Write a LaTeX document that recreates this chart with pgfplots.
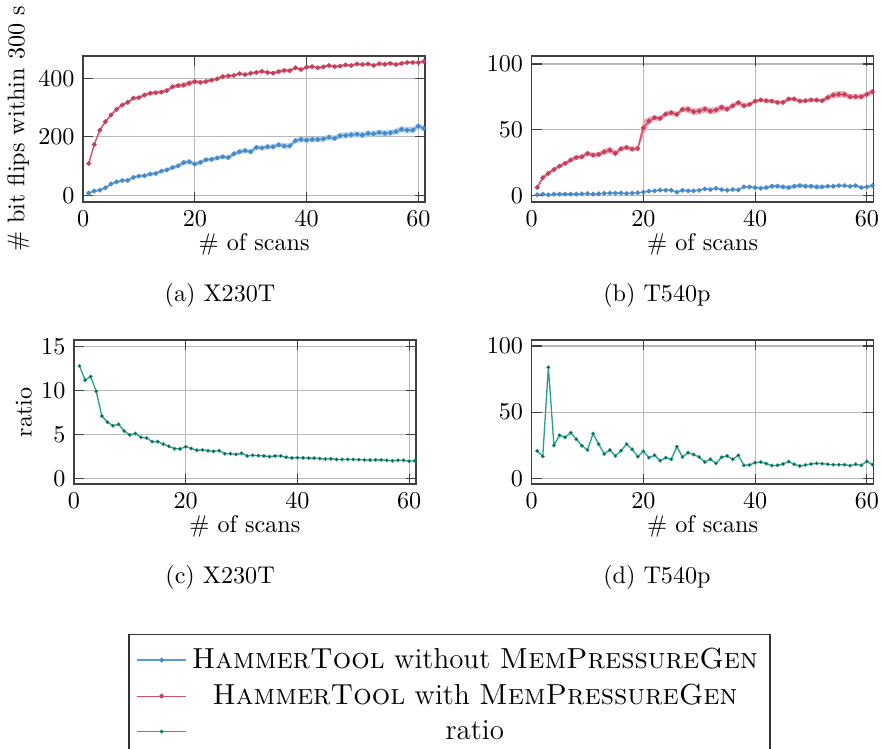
\documentclass[border=0pt]{standalone}
\usepackage{pgfplots}
\pgfplotsset{compat=1.18}
\usepackage{pgfplotstable}
\usepgfplotslibrary{fillbetween}

\definecolor{woline}{HTML}{5C9BD6}
\definecolor{womark}{HTML}{4A88C8}
\definecolor{woband}{HTML}{A8D5F1}
\definecolor{wline}{HTML}{D2506B}
\definecolor{wmark}{HTML}{C2405C}
\definecolor{wband}{HTML}{EBAAB8}
\definecolor{rline}{HTML}{2AA08C}
\definecolor{rmark}{HTML}{163F37}

% x, without (mean, spread), with (mean, spread)
\pgfplotstableread{
x wo woe w we
1 8 4 109 4
2 15 4 174 5
3 18 4 223 5
4 26 4 252 5
5 39 5 275 5
6 46 5 294 5
7 51 5 309 5
8 51 5 318 5
9 62 5 332 5
10 66 5 334 5
11 67 6 343 6
12 73 6 349 6
13 75 6 351 6
14 83 6 353 6
15 87 6 358 6
16 95 6 371 6
17 101 7 375 7
18 112 8 377 8
19 115 8 383 9
20 107 7 389 7
21 113 7 386 6
22 122 7 389 6
23 123 7 394 6
24 128 7 398 6
25 132 7 406 6
26 129 7 408 5
27 142 8 410 5
28 149 8 416 5
29 153 8 413 5
30 149 8 417 5
31 164 8 420 5
32 162 8 424 5
33 166 8 420 5
34 166 8 418 5
35 173 8 423 6
36 169 9 427 6
37 169 9 426 6
38 187 9 436 5
39 191 9 430 5
40 189 9 438 5
41 191 9 440 5
42 191 9 436 5
43 193 9 439 5
44 199 9 444 5
45 195 9 440 5
46 204 10 442 5
47 205 10 446 5
48 207 10 444 5
49 209 10 449 5
50 206 10 447 5
51 212 10 449 5
52 210 10 444 5
53 215 10 450 5
54 212 10 448 5
55 214 10 451 5
56 218 10 447 5
57 226 10 451 5
58 223 10 454 5
59 223 10 454 5
60 237 10 454 5
61 229 10 458 5
}\tabX

\pgfplotstableread{
x wo woe w we
1 0.5 0.4 6.1 1.2
2 1.0 0.4 13.5 1.5
3 0.5 0.4 16.8 1.5
4 1.0 0.4 19.8 1.5
5 1.0 0.4 22.3 1.5
6 1.0 0.4 24.4 1.5
7 1.0 0.4 26.9 1.8
8 1.0 0.4 28.9 1.8
9 1.2 0.4 29.4 1.8
10 1.5 0.4 32.0 1.8
11 1.0 0.4 30.7 1.8
12 1.3 0.4 31.2 1.8
13 1.6 0.4 33.2 2.2
14 1.8 0.4 34.5 2.5
15 1.8 0.4 32.0 2.2
16 1.8 0.4 35.5 1.8
17 1.5 0.4 36.5 1.8
18 1.8 0.4 35.3 1.8
19 2.0 0.4 35.8 1.8
20 2.5 0.5 51.5 6.0
21 3.3 0.6 56.6 3.0
22 3.5 0.6 59.1 2.0
23 4.0 0.6 58.6 2.0
24 4.0 0.6 61.9 2.0
25 4.0 0.6 62.9 2.0
26 2.5 0.6 61.7 2.0
27 4.0 0.7 65.5 2.0
28 3.5 0.7 65.5 2.5
29 3.5 0.7 63.7 2.5
30 4.0 0.7 64.2 2.5
31 5.0 0.7 65.7 2.5
32 4.5 0.7 64.2 2.5
33 5.5 0.7 65.0 2.5
34 4.5 0.7 67.0 2.5
35 4.0 0.7 65.7 2.0
36 4.5 0.7 68.3 2.0
37 4.2 0.7 70.6 2.0
38 6.5 0.8 68.3 2.0
39 6.5 0.8 69.3 1.5
40 6.0 0.8 71.8 1.5
41 5.5 0.8 72.6 1.5
42 6.0 1.0 72.1 1.5
43 7.0 1.5 71.8 1.5
44 7.0 1.5 70.8 1.5
45 6.5 1.5 70.8 1.5
46 6.0 1.5 73.4 1.5
47 7.0 1.5 73.4 1.5
48 7.5 1.5 71.8 1.5
49 7.0 1.5 72.1 1.5
50 7.0 1.5 72.6 1.5
51 6.5 1.5 72.6 1.5
52 6.5 1.5 72.1 1.5
53 7.0 1.2 74.6 2.0
54 7.0 1.0 76.4 2.5
55 7.5 1.0 76.9 2.5
56 7.5 1.0 76.9 2.5
57 7.0 1.0 75.1 2.0
58 7.5 1.0 75.1 2.0
59 6.0 1.0 75.1 2.0
60 6.5 1.0 76.9 2.0
61 7.5 1.0 78.9 2.0
}\tabT

% x, ratio X230T, ratio T540p
\pgfplotstableread{
x rx rt
1 12.8 20.7
2 11.2 16.6
3 11.6 83.9
4 9.9 24.9
5 7.1 32.5
6 6.4 31.0
7 6.0 34.5
8 6.15 29.5
9 5.4 24.7
10 4.95 21.4
11 5.1 33.8
12 4.67 25.9
13 4.6 18.4
14 4.18 21.4
15 4.18 16.9
16 3.9 20.9
17 3.65 25.9
18 3.38 21.9
19 3.35 16.4
20 3.6 20.4
21 3.4 15.6
22 3.2 17.4
23 3.23 13.4
24 3.15 15.6
25 3.08 14.4
26 3.15 23.9
27 2.8 16.1
28 2.8 19.4
29 2.73 17.9
30 2.85 16.1
31 2.55 12.3
32 2.62 14.4
33 2.58 11.3
34 2.55 15.9
35 2.47 16.9
36 2.55 14.4
37 2.55 17.4
38 2.4 9.8
39 2.32 10.1
40 2.35 11.8
41 2.33 12.3
42 2.3 11.1
43 2.3 9.6
44 2.25 9.8
45 2.2 10.8
46 2.22 12.6
47 2.15 10.6
48 2.15 9.3
49 2.15 10.1
50 2.15 10.8
51 2.12 11.3
52 2.1 11.1
53 2.08 10.6
54 2.1 10.3
55 2.1 10.3
56 2.05 10.3
57 2.0 9.6
58 2.05 10.6
59 2.05 9.8
60 1.95 12.8
61 2.0 10.3
}\tabR

\pgfplotsset{
  scanplot/.style={
    scale only axis, anchor=north west,
    width=141.6pt,
    xmin=0, xmax=61.2, xtick={0,20,40,60},
    grid=major,
    major grid style={black!28, line width=0.5pt},
    axis line style={black!75, line width=0.7pt},
    tick style={black!75, line width=0.5pt},
    xlabel={\# of scans},
    xlabel style={yshift=4pt},
  },
  woplot/.style={woline, line width=0.55pt, mark=*, mark size=0.7pt, mark options={fill=womark, draw=womark}},
  wplot/.style={wline, line width=0.55pt, mark=*, mark size=0.7pt, mark options={fill=wmark, draw=wmark}},
  rplot/.style={rline, line width=0.55pt, mark=*, mark size=0.7pt, mark options={fill=rmark, draw=rline, line width=0.25pt}},
}

\newcommand{\band}[5]{% table, mean column, spread column, colour, name
  \addplot[draw=none, forget plot, name path=#5up] table[x=x, y expr=\thisrow{#2}+\thisrow{#3}] {#1};
  \addplot[draw=none, forget plot, name path=#5lo] table[x=x, y expr=\thisrow{#2}-\thisrow{#3}] {#1};
  \addplot[fill=#4, draw=none, forget plot] fill between[of=#5up and #5lo];
}

\begin{document}
\begin{tikzpicture}
  \begin{axis}[scanplot, at={(34.4pt,-23.1pt)}, height=60.6pt,
      ymin=-23, ymax=477, ytick={0,200,400},
      ylabel={\# bit flips within 300 s}, ylabel style={yshift=-3pt}]
    \band{\tabX}{wo}{woe}{woband}{a}
    \band{\tabX}{w}{we}{wband}{b}
    \addplot[woplot] table[x=x, y=wo] {\tabX};
    \addplot[wplot] table[x=x, y=w] {\tabX};
  \end{axis}

  \begin{axis}[scanplot, at={(220.1pt,-23.1pt)}, height=60.6pt,
      ymin=-5.1, ymax=106.3, ytick={0,50,100}]
    \band{\tabT}{wo}{woe}{woband}{a}
    \band{\tabT}{w}{we}{wband}{b}
    \addplot[woplot] table[x=x, y=wo] {\tabT};
    \addplot[wplot] table[x=x, y=w] {\tabT};
  \end{axis}

  \begin{axis}[scanplot, at={(30.6pt,-140.8pt)}, height=59.7pt,
      ymin=-0.68, ymax=15.76, ytick={0,5,10,15},
      ylabel={ratio}, ylabel style={yshift=-3pt}]
    \addplot[rplot] table[x=x, y=rx] {\tabR};
  \end{axis}

  \begin{axis}[scanplot, at={(220.1pt,-140.8pt)}, height=59.7pt,
      ymin=-4.5, ymax=104.5, ytick={0,50,100}]
    \addplot[rplot] table[x=x, y=rt] {\tabR};
  \end{axis}

  \node at (91.1pt,-122.5pt) {(a) X230T};
  \node at (272pt,-122.5pt) {(b) T540p};
  \node at (91.1pt,-238.9pt) {(c) X230T};
  \node at (272pt,-238.9pt) {(d) T540p};

  \begin{axis}[hide axis, scale only axis, anchor=north west,
      at={(52.2pt,-262.5pt)}, width=267.8pt, height=47.6pt,
      xmin=0, xmax=1, ymin=0, ymax=1,
      legend cell align=center,
      legend image code/.code={%
        \draw[mark repeat=2, mark phase=2] plot coordinates {(0cm,0cm) (0.36cm,0cm) (0.72cm,0cm)};},
      legend style={at={(0.5,1)}, anchor=north, draw=black!80, line width=0.6pt,
        font=\large, row sep=1pt, inner xsep=3pt, inner ysep=3.5pt}]
    \addplot[draw=none, forget plot] coordinates {(0,0) (1,1)};
    \addlegendimage{woplot}
    \addlegendentry{\textsc{HammerTool} without \textsc{MemPressureGen}}
    \addlegendimage{wplot}
    \addlegendentry{\textsc{HammerTool} with \textsc{MemPressureGen}}
    \addlegendimage{rplot}
    \addlegendentry{ratio}
  \end{axis}

  \pgfresetboundingbox
  \path[use as bounding box] (0,0) rectangle (365.6pt,-310.1pt);
\end{tikzpicture}
\end{document}
